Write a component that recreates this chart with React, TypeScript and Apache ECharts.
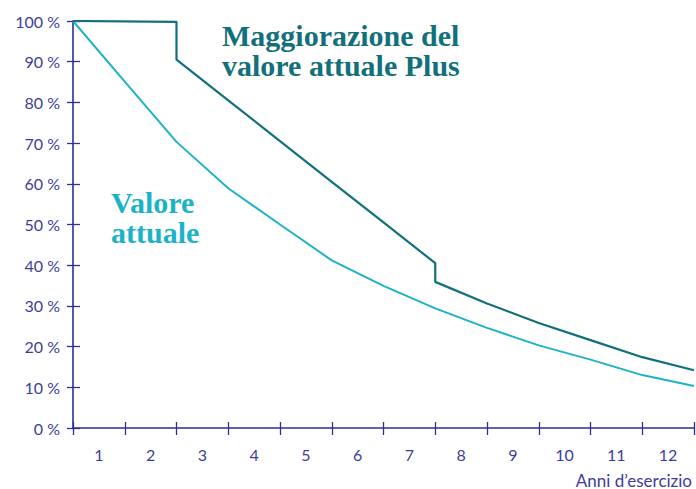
import React, { useEffect, useRef } from "react";
import * as echarts from "echarts";

const years = ["1", "2", "3", "4", "5", "6", "7", "8", "9", "10", "11", "12"];
const yTicks = [0, 10, 20, 30, 40, 50, 60, 70, 80, 90, 100];

// [years elapsed, percent]
const plusX = [0, 2, 2, 3, 4, 5, 6, 7, 7, 8, 9, 10, 11, 12];
const plusY = [100, 99.8, 90.5, 80.5, 70.5, 60.5, 50.5, 40.5, 35.9, 30.6, 25.8, 21.6, 17.4, 14.2];

const valX = [0, 1, 2, 3, 4, 5, 6, 7, 8, 9, 10, 11, 12];
const valY = [100, 85.1, 70.3, 58.9, 50.0, 41.2, 34.9, 29.4, 24.6, 20.3, 16.8, 13.0, 10.3];

const AXIS = "#2f2f8f";
const LABEL = "#3d3d9b";
const DARK = "#12707b";
const LIGHT = "#1cb3c7";

export default function App() {
  const ref = useRef<HTMLDivElement>(null);
  useEffect(() => {
    const chart = echarts.init(ref.current!, null, { renderer: "svg" });
    const sans = "Lato, 'Open Sans', sans-serif";
    const serif = "'Liberation Serif', serif";
    chart.setOption({
      animation: false,
      grid: { left: 73, right: 2, top: 21, bottom: 61, containLabel: false },
      xAxis: [
        {
          type: "category",
          data: years,
          position: "bottom",
          axisLine: { lineStyle: { color: AXIS, width: 1.6 } },
          axisTick: { show: true, length: 7, lineStyle: { color: AXIS, width: 1.3 } },
          axisLabel: { color: LABEL, fontSize: 16, fontFamily: sans, margin: 18 },
          splitLine: { show: false },
        },
        {
          type: "category",
          data: years,
          position: "bottom",
          axisLine: { show: false },
          axisTick: { show: true, inside: true, length: 6, lineStyle: { color: AXIS, width: 1.3 } },
          axisLabel: { show: false },
          splitLine: { show: false },
        },
        {
          type: "value",
          min: 0,
          max: 12,
          show: false,
        },
      ],
      yAxis: [
        {
          type: "value",
          min: 0,
          max: 100,
          interval: 10,
          axisLine: { show: true, lineStyle: { color: AXIS, width: 1.6 } },
          axisTick: { show: true, length: 6, lineStyle: { color: AXIS, width: 1.3 } },
          axisLabel: {
            color: LABEL,
            fontSize: 16,
            fontFamily: sans,
            margin: 13,
            formatter: (v: number) => (yTicks.includes(v) ? v + " %" : ""),
          },
          splitLine: { show: false },
        },
        {
          type: "value",
          min: 0,
          max: 100,
          interval: 10,
          position: "left",
          axisLine: { show: false },
          axisTick: { show: true, inside: true, length: 7, lineStyle: { color: AXIS, width: 1.3 } },
          axisLabel: { show: false },
          splitLine: { show: false },
        },
      ],
      series: [
        {
          type: "line",
          xAxisIndex: 2,
          yAxisIndex: 0,
          data: valX.map((x, i) => [x, valY[i]]),
          showSymbol: false,
          lineStyle: { color: LIGHT, width: 2 },
          z: 3,
        },
        {
          type: "line",
          xAxisIndex: 2,
          yAxisIndex: 0,
          data: plusX.map((x, i) => [x, plusY[i]]),
          showSymbol: false,
          lineStyle: { color: DARK, width: 2.2 },
          z: 4,
        },
      ],
      graphic: [
        {
          type: "text",
          x: 222,
          y: 20,
          style: {
            text: "Maggiorazione del\nvalore attuale Plus",
            font: `bold 30px ${serif}`,
            lineHeight: 30,
            fill: DARK,
            verticalAlign: "top",
          },
        },
        {
          type: "text",
          x: 111,
          y: 187,
          style: {
            text: "Valore\nattuale",
            font: `bold 30px ${serif}`,
            lineHeight: 30,
            fill: LIGHT,
            verticalAlign: "top",
          },
        },
        {
          type: "text",
          x: 692,
          y: 480,
          style: { text: "Anni d’esercizio", font: `17px ${sans}`, fill: LABEL, align: "right", verticalAlign: "middle" },
        },
      ],
    });
    return () => chart.dispose();
  }, []);
  return <div ref={ref} style={{ width: 696, height: 489, position: "absolute", left: 0, top: 0 }} />;
}
